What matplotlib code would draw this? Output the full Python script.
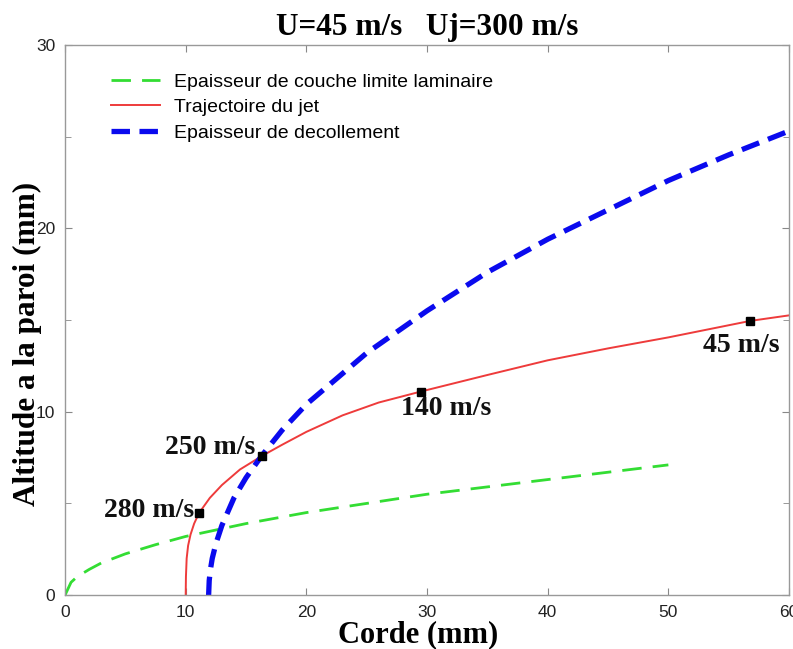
import matplotlib
matplotlib.use("Agg")
import matplotlib.pyplot as plt
from matplotlib.ticker import MultipleLocator, FixedLocator

# --- data ---
green_x = [0, 0.5, 1, 2, 3, 5, 7.5, 10, 15, 20, 25, 30, 35, 40, 45, 50]
green_y = [0, 0.7, 1.0, 1.4, 1.75, 2.25, 2.75, 3.2, 3.9, 4.5, 5.0, 5.5, 5.9, 6.3, 6.7, 7.1]

red_x = [10.0, 10.02, 10.08, 10.2, 10.4, 10.7, 11.1, 12, 13, 14.5, 16.3, 18, 20, 23, 26, 29.5, 35, 40, 45, 50, 56.8, 60]
red_y = [0, 1.0, 2.0, 2.7, 3.3, 3.9, 4.47, 5.3, 6.0, 6.85, 7.58, 8.2, 8.9, 9.8, 10.5, 11.1, 12.0, 12.8, 13.45, 14.05, 14.95, 15.25]

blue_x = [11.9, 11.95, 12.05, 12.2, 12.5, 13, 14, 15, 16.3, 18, 20, 25, 30, 35, 40, 45, 50, 55, 60]
blue_y = [0, 0.8, 1.4, 2.0, 2.8, 3.8, 5.3, 6.4, 7.6, 9.0, 10.4, 13.2, 15.5, 17.6, 19.4, 21.0, 22.6, 24.0, 25.3]

pts_x = [11.1, 16.3, 29.5, 56.8]
pts_y = [4.47, 7.58, 11.1, 14.95]
pts_labels = ["280 m/s", "250 m/s", "140 m/s", "45 m/s"]

title = "U=45 m/s   Uj=300 m/s"
xlabel = "Corde (mm)"
ylabel = "Altitude a la paroi (mm)"
xticks = [0, 10, 20, 30, 40, 50, 60]
yticks = [0, 10, 20, 30]

sans = ["Liberation Sans", "DejaVu Sans"]
serif = ["Liberation Serif", "DejaVu Serif"]

fig = plt.figure(figsize=(7.93, 6.49), dpi=100)
ax = fig.add_axes([0.082, 0.083, 0.913, 0.848])

ax.plot(green_x, green_y, color="#33dd33", lw=2.0, dashes=(7, 4),
        label="Epaisseur de couche limite laminaire")
ax.plot(red_x, red_y, color="#ee3b3b", lw=1.4, label="Trajectoire du jet")
ax.plot(blue_x, blue_y, color="#0a0aee", lw=3.8, dashes=(3.5, 1.8),
        label="Epaisseur de decollement")
ax.plot(pts_x, pts_y, "s", color="black", ms=6, zorder=5)

offsets = [(-5, 3, "right"), (-6, 9, "right"), (25, -17, "center"), (-9, -25, "center")]
for x, y, lab, (dx, dy, ha) in zip(pts_x, pts_y, pts_labels, offsets):
    ax.annotate(lab, (x, y), xytext=(dx, dy), textcoords="offset pixels",
                ha=ha, va="center", fontsize=20, fontweight="bold",
                family=serif, color="#111111", annotation_clip=False)

ax.set_xlim(0, 60)
ax.set_ylim(0, 30)
ax.xaxis.set_major_locator(FixedLocator(xticks))
ax.yaxis.set_major_locator(FixedLocator(yticks))
ax.yaxis.set_minor_locator(MultipleLocator(5))
ax.tick_params(which="both", direction="in", top=True, right=True,
               color="#888888", labelsize=12.5, pad=7)
ax.tick_params(which="major", length=5)
ax.tick_params(which="minor", length=4)
for lab in ax.get_xticklabels() + ax.get_yticklabels():
    lab.set_family(sans)
    lab.set_color("#222222")
for s in ax.spines.values():
    s.set_color("#999999")
    s.set_linewidth(1.0)

ax.set_title(title, fontsize=22.5, fontweight="bold", family=serif, pad=7)
ax.set_xlabel(xlabel, fontsize=22, fontweight="bold", family=serif)
ax.set_ylabel(ylabel, fontsize=22.5, fontweight="bold", family=serif)
ax.xaxis.set_label_coords(0.488, -0.046)
ax.yaxis.set_label_coords(-0.032, 0.456)

leg = ax.legend(loc="upper left", bbox_to_anchor=(0.04, 0.98), frameon=False,
                prop={"family": sans, "size": 14}, handlelength=2.5,
                labelspacing=0.4, handletextpad=0.7)

fig.savefig("out.png", dpi=100)
